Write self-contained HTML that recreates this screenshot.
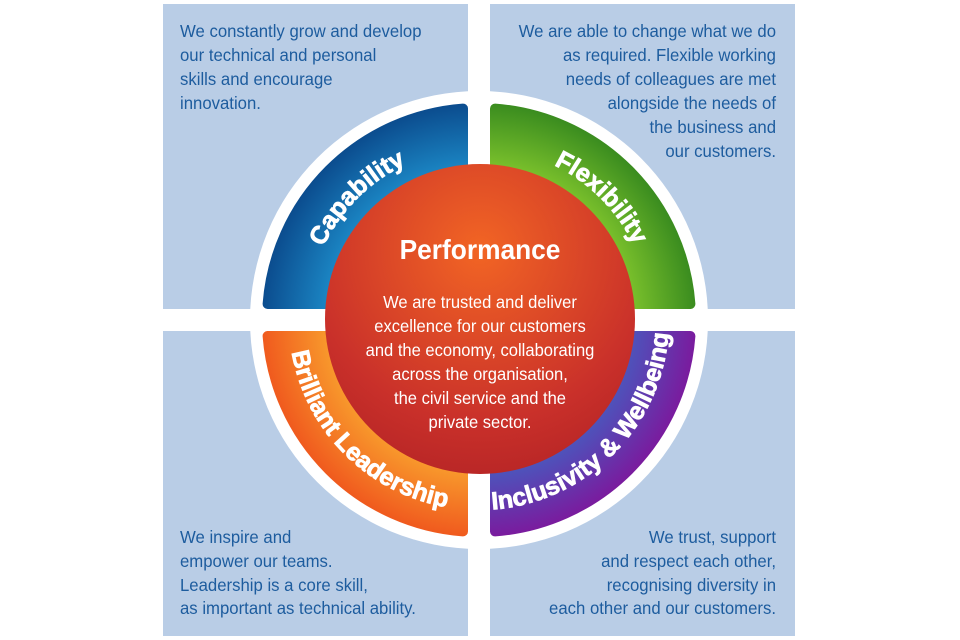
<!DOCTYPE html>
<html><head><meta charset="utf-8"><style>html,body{margin:0;padding:0;background:#fff}svg{display:block}</style></head>
<body>
<svg width="960" height="640" viewBox="0 0 960 640" xmlns="http://www.w3.org/2000/svg" font-family="'Liberation Sans', sans-serif">
<defs>
<radialGradient id="gb" gradientUnits="userSpaceOnUse" cx="479" cy="320" r="217"><stop offset="0.7" stop-color="#1b86c4"/><stop offset="1" stop-color="#0b4c8e"/></radialGradient>
<radialGradient id="gg" gradientUnits="userSpaceOnUse" cx="479" cy="320" r="217"><stop offset="0.7" stop-color="#7cc22c"/><stop offset="1" stop-color="#3a8c1f"/></radialGradient>
<radialGradient id="go" gradientUnits="userSpaceOnUse" cx="479" cy="320" r="217"><stop offset="0.7" stop-color="#f8992c"/><stop offset="1" stop-color="#f05a1e"/></radialGradient>
<radialGradient id="gp" gradientUnits="userSpaceOnUse" cx="479" cy="320" r="217"><stop offset="0.7" stop-color="#4c55bc"/><stop offset="1" stop-color="#7a1b9e"/></radialGradient>
<radialGradient id="gr" gradientUnits="userSpaceOnUse" cx="480" cy="250" r="230"><stop offset="0" stop-color="#f26524"/><stop offset="0.75" stop-color="#c9302a"/><stop offset="1" stop-color="#b82626"/></radialGradient>
<path id="p1" d="M307,320 A172 172 0 0 1 479,148"/>
<path id="p2" d="M479,148 A172 172 0 0 1 651,320"/>
<path id="p3" d="M289,320 A190 190 0 0 0 479,510"/>
<path id="p4" d="M479,510 A190 190 0 0 0 669,320"/>
</defs>
<rect x="163" y="4" width="305" height="305" fill="#b9cde6"/>
<rect x="490" y="4" width="305" height="305" fill="#b9cde6"/>
<rect x="163" y="331" width="305" height="305" fill="#b9cde6"/>
<rect x="490" y="331" width="305" height="305" fill="#b9cde6"/>
<circle cx="479" cy="320" r="229" fill="#fff"/>
<rect x="468" y="80" width="22" height="480" fill="#fff"/>
<rect x="240" y="309" width="480" height="22" fill="#fff"/>
<g stroke-width="10" stroke-linejoin="round">
<path d="M463,304 L267.6,304 A212 212 0 0 1 463,108.6 Z" fill="url(#gb)" stroke="url(#gb)"/>
<path d="M495,304 L495,108.6 A212 212 0 0 1 690.4,304 Z" fill="url(#gg)" stroke="url(#gg)"/>
<path d="M495,336 L690.4,336 A212 212 0 0 1 495,531.4 Z" fill="url(#gp)" stroke="url(#gp)"/>
<path d="M463,336 L463,531.4 A212 212 0 0 1 267.6,336 Z" fill="url(#go)" stroke="url(#go)"/>
</g>
<circle cx="480" cy="319" r="155" fill="url(#gr)"/>
<g fill="#fff" stroke="#fff" stroke-width="0.8" font-weight="bold" font-size="25">
<text><textPath href="#p1" startOffset="50%" text-anchor="middle">Capability</textPath></text>
<text><textPath href="#p2" startOffset="50%" text-anchor="middle">Flexibility</textPath></text>
<text><textPath href="#p3" startOffset="50%" text-anchor="middle">Brilliant Leadership</textPath></text>
<text><textPath href="#p4" startOffset="50%" text-anchor="middle">Inclusivity &amp; Wellbeing</textPath></text>
</g>
<text transform="translate(480,259) scale(0.94,1)" text-anchor="middle" fill="#fff" font-weight="bold" font-size="28">Performance</text>
<g fill="#fff" font-size="18" text-anchor="middle">
<text transform="translate(480,308) scale(0.92,1)">We are trusted and deliver</text>
<text transform="translate(480,332) scale(0.92,1)">excellence for our customers</text>
<text transform="translate(480,356) scale(0.92,1)">and the economy, collaborating</text>
<text transform="translate(480,380) scale(0.92,1)">across the organisation,</text>
<text transform="translate(480,404) scale(0.92,1)">the civil service and the</text>
<text transform="translate(480,428) scale(0.92,1)">private sector.</text>
</g>
<g fill="#1d5c9e" font-size="18">
<text transform="translate(180,37) scale(0.93,1)">We constantly grow and develop</text>
<text transform="translate(180,61) scale(0.93,1)">our technical and personal</text>
<text transform="translate(180,85) scale(0.93,1)">skills and encourage</text>
<text transform="translate(180,109) scale(0.93,1)">innovation.</text>
<text transform="translate(180,543) scale(0.93,1)">We inspire and</text>
<text transform="translate(180,567) scale(0.93,1)">empower our teams.</text>
<text transform="translate(180,591) scale(0.93,1)">Leadership is a core skill,</text>
<text transform="translate(180,614) scale(0.93,1)">as important as technical ability.</text>
</g>
<g fill="#1d5c9e" font-size="18" text-anchor="end">
<text transform="translate(776,37) scale(0.93,1)">We are able to change what we do</text>
<text transform="translate(776,61) scale(0.93,1)">as required. Flexible working</text>
<text transform="translate(776,85) scale(0.93,1)">needs of colleagues are met</text>
<text transform="translate(776,109) scale(0.93,1)">alongside the needs of</text>
<text transform="translate(776,133) scale(0.93,1)">the business and</text>
<text transform="translate(776,157) scale(0.93,1)">our customers.</text>
<text transform="translate(776,543) scale(0.93,1)">We trust, support</text>
<text transform="translate(776,567) scale(0.93,1)">and respect each other,</text>
<text transform="translate(776,591) scale(0.93,1)">recognising diversity in</text>
<text transform="translate(776,614) scale(0.93,1)">each other and our customers.</text>
</g>
</svg>
</body></html>
